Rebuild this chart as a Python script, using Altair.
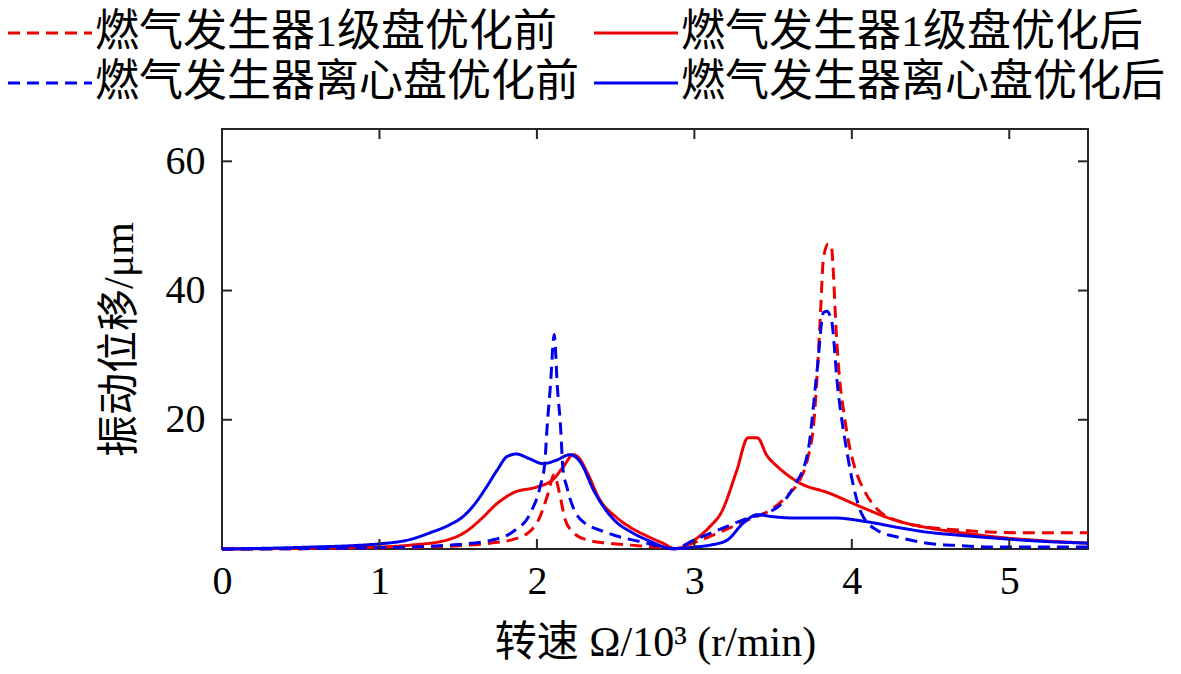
import altair as alt
import pandas as pd

series_names = ["燃气发生器1级盘优化前", "燃气发生器离心盘优化前",
                "燃气发生器1级盘优化后", "燃气发生器离心盘优化后"]
series_colors = ["#ee0000", "#0000ee", "#ee0000", "#0000ee"]
series_dashes = [[12, 7], [12, 7], [1, 0], [1, 0]]

# 燃气发生器1级盘优化前 (red dashed)
r_pre_x = [0, 0.5, 1.0, 1.3, 1.5, 1.7, 1.85, 1.95, 2.02, 2.07, 2.11, 2.14, 2.18, 2.23,
           2.32, 2.45, 2.6, 2.75, 2.87, 3.0, 3.15, 3.34, 3.5, 3.6, 3.67, 3.72, 3.76,
           3.78, 3.80, 3.82, 3.85, 3.87, 3.88, 3.90, 3.92, 3.95, 3.98, 4.02, 4.08,
           4.16, 4.3, 4.48, 4.7, 4.9, 5.2, 5.5]
r_pre_y = [0, 0.05, 0.15, 0.3, 0.5, 0.9, 1.5, 2.6, 5.0, 8.5, 11.5, 9.0, 4.5, 2.6,
           1.4, 0.9, 0.6, 0.3, 0.05, 1.0, 2.5, 4.5, 6.3, 8.5, 10.7, 14.0, 20.0,
           27.0, 36.0, 45.0, 47.2, 47.0, 44.0, 34.0, 27.0, 21.0, 16.5, 12.5, 9.0,
           6.2, 4.3, 3.4, 2.9, 2.6, 2.5, 2.5]

# 燃气发生器1级盘优化后 (red solid)
r_post_x = [0, 0.5, 1.0, 1.2, 1.43, 1.55, 1.64, 1.75, 1.85, 2.0, 2.1, 2.17, 2.23, 2.27,
            2.32, 2.40, 2.5, 2.59, 2.7, 2.80, 2.88, 3.0, 3.1, 3.17, 3.27, 3.34, 3.40,
            3.46, 3.53, 3.6, 3.67, 3.85, 4.06, 4.27, 4.48, 4.7, 4.9, 5.2, 5.5]
r_post_y = [0, 0.1, 0.3, 0.6, 1.4, 2.7, 4.5, 7.1, 8.7, 9.6, 10.7, 12.8, 14.6, 14.0,
            11.8, 7.6, 5.0, 3.4, 2.0, 0.9, 0.05, 1.4, 3.5, 5.6, 12.2, 17.2, 17.2,
            14.5, 12.7, 11.3, 10.2, 8.7, 6.5, 4.5, 3.3, 2.5, 1.9, 1.3, 0.9]

# 燃气发生器离心盘优化前 (blue dashed)
b_pre_x = [0, 0.5, 1.0, 1.3, 1.5, 1.7, 1.85, 1.96, 2.02, 2.05, 2.065, 2.085, 2.11,
           2.13, 2.15, 2.165, 2.19, 2.28, 2.45, 2.7, 2.87, 3.0, 3.31, 3.53, 3.63,
           3.72, 3.78, 3.82, 3.84, 3.87, 3.91, 3.97, 4.06, 4.16, 4.3, 4.48, 4.7,
           4.9, 5.2, 5.5]
b_pre_y = [0, 0.05, 0.2, 0.4, 0.7, 1.3, 2.7, 5.6, 9.6, 13.3, 19.0, 25.0, 33.2,
           25.0, 19.0, 12.5, 9.6, 4.5, 2.5, 0.9, 0.05, 1.4, 4.5, 6.5, 9.6,
           14.9, 27.8, 36.6, 36.8, 35.5, 25.1, 14.9, 5.6, 2.9, 1.8, 0.9, 0.5,
           0.3, 0.3, 0.3]

# 燃气发生器离心盘优化后 (blue solid)
b_post_x = [0, 0.5, 1.0, 1.2, 1.32, 1.45, 1.53, 1.6, 1.68, 1.75, 1.81, 1.87, 1.95,
            2.04, 2.12, 2.21, 2.28, 2.36, 2.49, 2.6, 2.70, 2.87, 3.0, 3.1, 3.21,
            3.31, 3.40, 3.5, 3.63, 3.89, 4.1, 4.3, 4.48, 4.7, 4.9, 5.2, 5.5]
b_post_y = [0, 0.25, 0.8, 1.5, 2.5, 3.8, 5.0, 6.8, 9.6, 12.3, 14.3, 14.7, 14.0,
            13.2, 13.7, 14.6, 13.3, 9.1, 4.5, 2.6, 1.4, 0.05, 0.3, 0.6, 1.4,
            4.0, 5.3, 5.0, 4.8, 4.8, 4.2, 3.3, 2.6, 2.1, 1.7, 1.2, 0.9]

x_label_values = [0, 1, 2, 3, 4, 5]
y_label_values = [20, 40, 60]
x_tick_values = [1, 2, 3, 4, 5]
y_tick_values = [20, 40, 60]

rows = []
for name, xs, ys in [("燃气发生器1级盘优化前", r_pre_x, r_pre_y),
                     ("燃气发生器1级盘优化后", r_post_x, r_post_y),
                     ("燃气发生器离心盘优化前", b_pre_x, b_pre_y),
                     ("燃气发生器离心盘优化后", b_post_x, b_post_y)]:
    for i, (a, b) in enumerate(zip(xs, ys)):
        rows.append({"x": a, "y": b, "series": name, "i": i})
df = pd.DataFrame(rows)

W, H = 866, 420
AX = "#262626"
LATIN_CJK = "Liberation Serif, Noto Sans CJK SC"

xscale = alt.Scale(domain=[0, 5.5], nice=False, zero=False)
yscale = alt.Scale(domain=[0, 65], nice=False, zero=False)

legend = alt.Legend(
    title=None, orient="none", legendX=-214, legendY=-118, columns=2,
    columnPadding=9, rowPadding=6, symbolType="M-1.073,0H3.024",
    symbolSize=1681, symbolStrokeWidth=3, labelFont=LATIN_CJK,
    labelFontSize=44, labelOffset=43, labelLimit=1000, labelColor="black",
)

lines = alt.Chart(df).mark_line(strokeWidth=3, interpolate="monotone").encode(
    x=alt.X("x:Q", scale=xscale,
            axis=alt.Axis(values=x_label_values, title="转速 Ω/10³ (r/min)", format="d",
                          labelFlush=False, ticks=False, domain=False, grid=False,
                          labelPadding=12, titlePadding=21)),
    y=alt.Y("y:Q", scale=yscale,
            axis=alt.Axis(values=y_label_values, title="振动位移/μm", format="d",
                          ticks=False, domain=False, grid=False,
                          labelPadding=17, titlePadding=24)),
    color=alt.Color("series:N", scale=alt.Scale(domain=series_names, range=series_colors),
                    legend=legend),
    strokeDash=alt.StrokeDash("series:N",
                              scale=alt.Scale(domain=series_names, range=series_dashes),
                              legend=legend),
    order="i:Q",
)

xt = pd.DataFrame({"x": x_tick_values})
yt = pd.DataFrame({"y": y_tick_values})

xt_bottom = alt.Chart(xt).mark_rule(color=AX, strokeWidth=2).encode(
    x=alt.X("x:Q", scale=xscale), y=alt.value(H), y2=alt.value(H - 10))
xt_top = alt.Chart(xt).mark_rule(color=AX, strokeWidth=2).encode(
    x=alt.X("x:Q", scale=xscale), y=alt.value(0), y2=alt.value(10))
yt_left = alt.Chart(yt).mark_rule(color=AX, strokeWidth=2).encode(
    y=alt.Y("y:Q", scale=yscale), x=alt.value(0), x2=alt.value(10))
yt_right = alt.Chart(yt).mark_rule(color=AX, strokeWidth=2).encode(
    y=alt.Y("y:Q", scale=yscale), x=alt.value(W), x2=alt.value(W - 10))

chart = alt.layer(lines, xt_bottom, xt_top, yt_left, yt_right).properties(
    width=W, height=H,
    autosize=alt.AutoSizeParams(type="none"),
    padding={"left": 214, "top": 121, "right": 85, "bottom": 117},
).configure_view(
    stroke=AX, strokeWidth=2
).configure_axis(
    labelFont="Liberation Serif", labelFontSize=40, labelColor="black",
    titleFont=LATIN_CJK, titleFontSize=42, titleFontWeight="normal", titleColor="black",
)

chart.save("out.html", embed_options={"renderer": "svg", "actions": False})
